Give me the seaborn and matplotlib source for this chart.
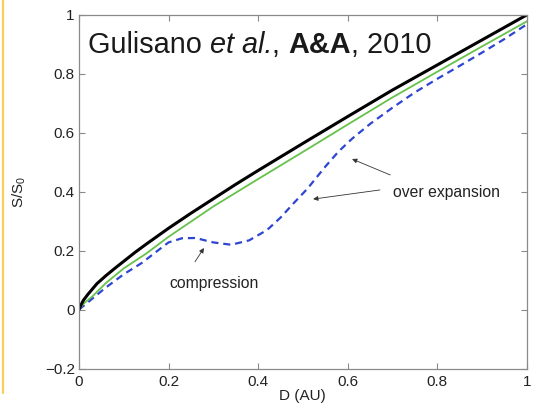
import matplotlib
matplotlib.use("Agg")
import matplotlib.pyplot as plt
from matplotlib.lines import Line2D
import seaborn as sns

# Normalised surface S/S0 versus heliocentric distance D (AU)
d_black = [0.0, 0.005, 0.01, 0.02, 0.04, 0.06, 0.08, 0.10, 0.125, 0.15, 0.20, 0.25, 0.30,
           0.35, 0.40, 0.50, 0.60, 0.70, 0.80, 0.90, 1.00]
s_black = [0.0, 0.018, 0.032, 0.052, 0.088, 0.115, 0.14, 0.164, 0.194, 0.222, 0.276, 0.327, 0.376,
           0.425, 0.472, 0.564, 0.655, 0.745, 0.83, 0.915, 1.00]

d_green = [0.0, 0.01, 0.03, 0.06, 0.10, 0.15, 0.20, 0.30, 0.40, 0.50, 0.60, 0.70, 0.80, 0.90, 1.00]
s_green = [0.0, 0.02, 0.045, 0.09, 0.14, 0.19, 0.247, 0.35, 0.443, 0.535, 0.628, 0.72, 0.807, 0.893, 0.978]

d_blue = [0.0, 0.02, 0.06, 0.10, 0.14, 0.18, 0.20, 0.23, 0.26, 0.30, 0.34, 0.38, 0.42, 0.45,
          0.48, 0.51, 0.55, 0.58, 0.61, 0.65, 0.70, 0.75, 0.80, 0.85, 0.90, 0.95, 1.00]
s_blue = [0.0, 0.025, 0.075, 0.12, 0.158, 0.205, 0.228, 0.242, 0.243, 0.228, 0.22, 0.235, 0.27, 0.312,
          0.362, 0.41, 0.485, 0.537, 0.58, 0.63, 0.685, 0.737, 0.783, 0.827, 0.872, 0.918, 0.968]

x_ticks = [0, 0.2, 0.4, 0.6, 0.8, 1]
x_tick_labels = ["0", "0.2", "0.4", "0.6", "0.8", "1"]
y_ticks = [-0.2, 0, 0.2, 0.4, 0.6, 0.8, 1]
y_tick_labels = ["\u22120.2", "0", "0.2", "0.4", "0.6", "0.8", "1"]

# citation pieces: (text, style, weight)
citation = [("Gulisano ", "normal", "normal"),
            ("et al.", "italic", "normal"),
            (", ", "normal", "normal"),
            ("A&A", "normal", "bold"),
            (", 2010", "normal", "normal")]

sns.set_style("white")
plt.rcParams["font.family"] = ["Liberation Sans", "DejaVu Sans"]
plt.rcParams["mathtext.fontset"] = "custom"
plt.rcParams["mathtext.rm"] = "Liberation Sans"
plt.rcParams["mathtext.it"] = "Liberation Sans:italic"

fig = plt.figure(figsize=(5.39, 4.05), dpi=100)
ax = fig.add_axes([0.1466, 0.0901, 0.8306, 0.873])

sns.lineplot(x=d_blue, y=s_blue, ax=ax, color="#2f45d2", lw=1.6,
             linestyle=(0, (3.2, 2.2)), sort=False, estimator=None)
sns.lineplot(x=d_green, y=s_green, ax=ax, color="#66c24a", lw=1.3,
             sort=False, estimator=None)
sns.lineplot(x=d_black, y=s_black, ax=ax, color="black", lw=2.2,
             sort=False, estimator=None)

ax.set_xlim(0, 1)
ax.set_ylim(-0.2, 1)
ax.set_xticks(x_ticks)
ax.set_xticklabels(x_tick_labels)
ax.set_yticks(y_ticks)
ax.set_yticklabels(y_tick_labels)

spine_col = "#8a8a8a"
for sp in ax.spines.values():
    sp.set_color(spine_col)
    sp.set_linewidth(0.9)
ax.tick_params(direction="in", length=4, width=0.8, color=spine_col,
               labelsize=11, labelcolor="#222222",
               top=True, right=True, bottom=True, left=True)
ax.tick_params(axis="x", pad=5)
ax.tick_params(axis="y", pad=3)

ax.set_xlabel("D (AU)", fontsize=11, color="#222222", labelpad=0)
ax.set_ylabel(r"S/S$_0$", fontsize=11, color="#222222", labelpad=12)

# citation written piece by piece so each part keeps its own style
prev = None
for txt, style, weight in citation:
    if prev is None:
        prev = ax.text(0.02, 0.875, txt, transform=ax.transAxes, fontsize=20.8,
                       color="#1a1a1a", style=style, weight=weight,
                       ha="left", va="bottom")
    else:
        prev = ax.annotate(txt, xy=(1, 0), xycoords=prev, fontsize=20.8,
                           color="#1a1a1a", style=style, weight=weight,
                           ha="left", va="bottom")

arrow = dict(arrowstyle="-|>", lw=0.6, color="#333333", mutation_scale=7,
             shrinkA=0, shrinkB=0)
ax.annotate("", xy=(0.279, 0.209), xytext=(0.259, 0.162), arrowprops=arrow)
ax.text(0.302, 0.09, "compression", fontsize=11.3, color="#222222",
        ha="center", va="center")

ax.annotate("", xy=(0.61, 0.511), xytext=(0.695, 0.457), arrowprops=arrow)
ax.annotate("", xy=(0.523, 0.375), xytext=(0.672, 0.406), arrowprops=arrow)
ax.text(0.701, 0.396, "over expansion", fontsize=11.3, color="#222222",
        ha="left", va="center")

# thin yellow frame edge on the left side
fig.add_artist(Line2D([0.0055, 0.0055], [0.03, 1.0], transform=fig.transFigure,
                      color="#f8cf5a", lw=1.6))

fig.savefig("out.png", dpi=100)
